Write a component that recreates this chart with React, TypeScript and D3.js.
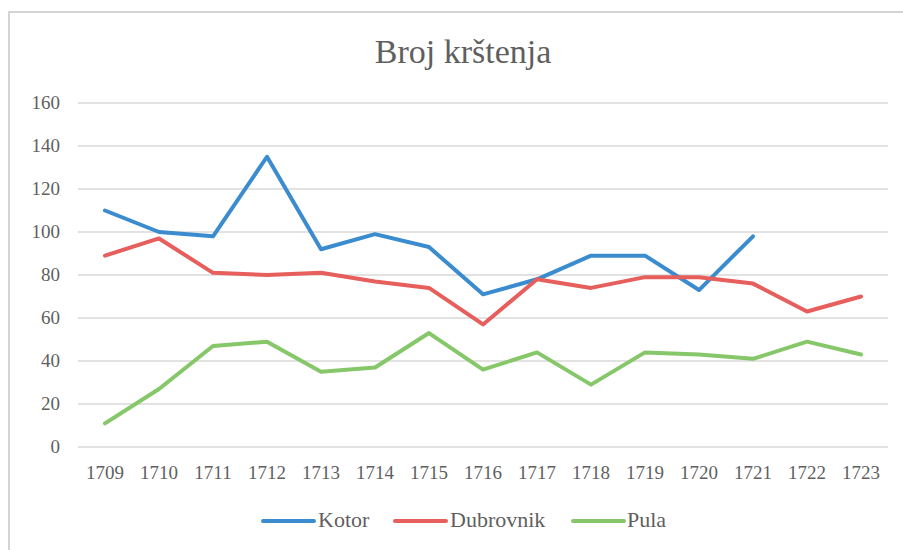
import React from "react";
import * as d3 from "d3";

const years = ["1709","1710","1711","1712","1713","1714","1715","1716","1717","1718","1719","1720","1721","1722","1723"];
const kotor: (number | null)[] = [110,100,98,135,92,99,93,71,78,89,89,73,98,null,null];
const dubrovnik: (number | null)[] = [89,97,81,80,81,77,74,57,78,74,79,79,76,63,70];
const pula: (number | null)[] = [11,27,47,49,35,37,53,36,44,29,44,43,41,49,43];
const yTicks = [0,20,40,60,80,100,120,140,160];
const title = "Broj krštenja";

const series = [
  { name: "Kotor", values: kotor, color: "#3a8ccf" },
  { name: "Dubrovnik", values: dubrovnik, color: "#e65f5c" },
  { name: "Pula", values: pula, color: "#86c769" },
];

const W = 903, H = 550;
const plot = { left: 78, right: 888, top: 103, bottom: 447 };

export default function App() {
  const x = d3.scaleBand<string>().domain(years).range([plot.left, plot.right]);
  const y = d3.scaleLinear().domain([0, 160]).range([plot.bottom, plot.top]);
  const cx = (d: string) => (x(d) as number) + x.bandwidth() / 2;
  const line = d3
    .line<number | null>()
    .defined((d) => d != null)
    .x((_, i) => cx(years[i]))
    .y((d) => y(d as number));
  const font = "'Liberation Serif', 'Times New Roman', serif";
  const textColor = "#5f5f5f";
  const legendItems = [
    { lx: 263, tx: 318 },
    { lx: 395, tx: 450 },
    { lx: 573, tx: 627 },
  ];
  return (
    <svg width={W} height={H} style={{ position: "absolute", left: 0, top: 0 }} fontFamily={font}>
      <rect x={0} y={0} width={W} height={H} fill="#fff" />
      <rect x={9} y={12} width={W + 20} height={H + 20} fill="#fff" stroke="#d4d4d4" strokeWidth={2} />
      <text x={463} y={63} textAnchor="middle" fontSize={34} fill={textColor}>{title}</text>
      {yTicks.map((t) => (
        <g key={t}>
          <line x1={plot.left} x2={plot.right} y1={y(t)} y2={y(t)} stroke="#d9d9d9" strokeWidth={1.3} />
          <text x={60} y={y(t) + 6} textAnchor="end" fontSize={19} fill={textColor}>{t}</text>
        </g>
      ))}
      {years.map((yr) => (
        <text key={yr} x={cx(yr)} y={479} textAnchor="middle" fontSize={19} fill={textColor}>{yr}</text>
      ))}
      {series.map((s) => (
        <path key={s.name} d={line(s.values) || ""} fill="none" stroke={s.color} strokeWidth={4} strokeLinejoin="round" strokeLinecap="round" />
      ))}
      {series.map((s, i) => (
        <g key={s.name}>
          <line x1={legendItems[i].lx} x2={legendItems[i].lx + 51} y1={521} y2={521} stroke={s.color} strokeWidth={4} strokeLinecap="round" />
          <text x={legendItems[i].tx} y={527} fontSize={22} fill={textColor}>{s.name}</text>
        </g>
      ))}
    </svg>
  );
}
